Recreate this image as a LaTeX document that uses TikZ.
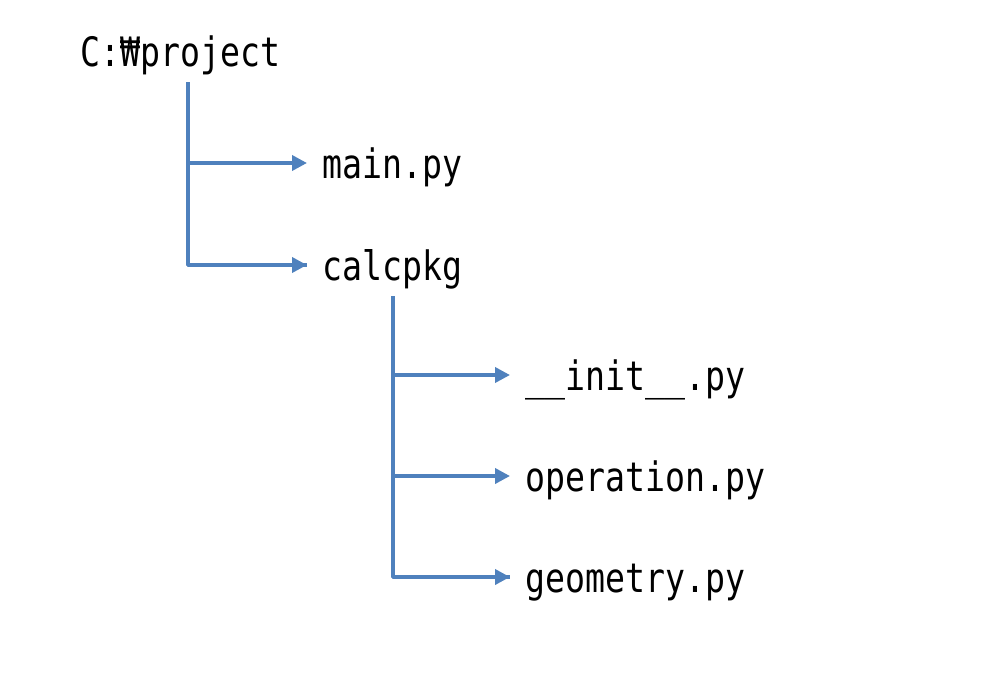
\documentclass[tikz,border=0pt]{standalone}
\usepackage{fontspec}
\usepackage{graphicx}
\setmonofont{DejaVu Sans Mono}
\usetikzlibrary{arrows.meta}
\definecolor{linkblue}{RGB}{79,129,189}
\tikzset{
  conn/.style={draw=linkblue, line width=3.6pt, line join=round, -{Triangle[length=15pt,width=15pt]}},
  trunk/.style={draw=linkblue, line width=3.6pt, line join=round},
  fname/.style={inner sep=0pt, anchor=base west, font=\fontsize{33.2}{40}\selectfont\ttfamily}
}
\newcommand{\tall}[1]{\scalebox{1}[1.22]{#1}}
\begin{document}
\begin{tikzpicture}[x=1pt,y=-1pt]
\useasboundingbox[fill=white] (0,0) rectangle (988,678);
\node[fname] (root) at (80,66) {\tall{C:₩project}};
\node[fname] (main) at (322,178) {\tall{main.py}};
\node[fname] (calc) at (322,280) {\tall{calcpkg}};
\node[fname] (init) at (525,390) {\tall{\_\_init\_\_.py}};
\node[fname] (oper) at (525,491) {\tall{operation.py}};
\node[fname] (geom) at (525,592) {\tall{geometry.py}};
% first level
\draw[trunk] ([xshift=108pt,yshift=-16pt]root.base west) |- ([xshift=-15pt,yshift=15pt]calc.base west);
\draw[conn] ([xshift=108pt,yshift=-16pt]root.base west) |- ([xshift=-15pt,yshift=15pt]main.base west);
\draw[conn] ([xshift=108pt,yshift=-16pt]root.base west) |- ([xshift=-15pt,yshift=15pt]calc.base west);
% second level
\draw[trunk] ([xshift=71pt,yshift=-16pt]calc.base west) |- ([xshift=-15pt,yshift=15pt]geom.base west);
\draw[conn] ([xshift=71pt,yshift=-16pt]calc.base west) |- ([xshift=-15pt,yshift=15pt]init.base west);
\draw[conn] ([xshift=71pt,yshift=-16pt]calc.base west) |- ([xshift=-15pt,yshift=15pt]oper.base west);
\draw[conn] ([xshift=71pt,yshift=-16pt]calc.base west) |- ([xshift=-15pt,yshift=15pt]geom.base west);
\end{tikzpicture}
\end{document}
